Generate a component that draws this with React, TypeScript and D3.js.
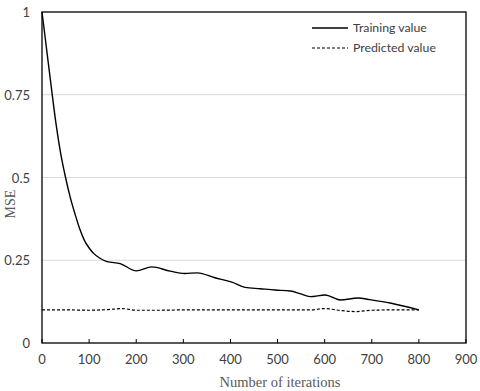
import * as d3 from "d3";
import { useEffect, useRef } from "react";

const xTicks = [0, 100, 200, 300, 400, 500, 600, 700, 800, 900];
const yTicks = [0, 0.25, 0.5, 0.75, 1];
const yTickLabels = ["0", "0.25", "0.5", "0.75", "1"];

const trainIter = [0, 10, 20, 30, 40, 50, 60, 70, 80, 90, 100, 110, 123, 138, 166, 200, 233, 272, 303, 330, 367, 403, 431, 463, 495, 527, 548, 569, 601, 633, 671, 696, 739, 800];
const trainMse = [1, 0.885, 0.77, 0.66, 0.57, 0.5, 0.44, 0.39, 0.345, 0.31, 0.287, 0.27, 0.256, 0.246, 0.24, 0.218, 0.23, 0.217, 0.21, 0.212, 0.197, 0.184, 0.168, 0.164, 0.16, 0.157, 0.149, 0.14, 0.145, 0.13, 0.136, 0.131, 0.121, 0.1];

const predIter = [0, 50, 100, 140, 170, 200, 250, 300, 400, 500, 570, 600, 630, 665, 700, 750, 800];
const predMse = [0.1, 0.1, 0.099, 0.101, 0.104, 0.099, 0.099, 0.1, 0.1, 0.1, 0.1, 0.104, 0.099, 0.095, 0.099, 0.1, 0.1];

const W = 480;
const H = 391;
const margin = { top: 12, right: 14, bottom: 48, left: 42 };

export default function App() {
  const ref = useRef<SVGSVGElement>(null);

  useEffect(() => {
    const svg = d3.select(ref.current);
    svg.selectAll("*").remove();

    const x = d3.scaleLinear().domain([0, 900]).range([margin.left, W - margin.right]);
    const y = d3.scaleLinear().domain([0, 1]).range([H - margin.bottom, margin.top]);

    // gridlines
    svg
      .append("g")
      .selectAll("line")
      .data([0.25, 0.5, 0.75])
      .join("line")
      .attr("x1", x(0))
      .attr("x2", x(900))
      .attr("y1", (d) => y(d))
      .attr("y2", (d) => y(d))
      .attr("stroke", "#d9d9d9")
      .attr("stroke-width", 1);

    // frame
    svg
      .append("rect")
      .attr("x", x(0))
      .attr("y", y(1))
      .attr("width", x(900) - x(0))
      .attr("height", y(0) - y(1))
      .attr("fill", "none")
      .attr("stroke", "#000")
      .attr("stroke-width", 1.3);

    // x axis ticks (inside)
    const xAxis = svg.append("g").attr("transform", `translate(0,${y(0)})`);
    xAxis
      .selectAll("line")
      .data(xTicks)
      .join("line")
      .attr("x1", (d) => x(d))
      .attr("x2", (d) => x(d))
      .attr("y1", 0)
      .attr("y2", -4)
      .attr("stroke", "#000");
    xAxis
      .selectAll("text")
      .data(xTicks)
      .join("text")
      .attr("x", (d) => x(d))
      .attr("y", 21)
      .attr("text-anchor", "middle")
      .attr("font-family", "Lato, sans-serif")
      .attr("font-size", 13)
      .attr("fill", "#404040")
      .text((d) => String(d));

    svg
      .append("g")
      .selectAll("text")
      .data(yTicks)
      .join("text")
      .attr("x", 30)
      .attr("y", (d) => y(d) + 5)
      .attr("text-anchor", "end")
      .attr("font-family", "Lato, sans-serif")
      .attr("font-size", 13)
      .attr("fill", "#404040")
      .text((d, i) => yTickLabels[i]);

    // axis titles
    svg
      .append("text")
      .attr("x", 280)
      .attr("y", 387)
      .attr("text-anchor", "middle")
      .attr("font-family", "'Liberation Serif', 'Times New Roman', serif")
      .attr("font-size", 14.5)
      .attr("fill", "#595959")
      .text("Number of iterations");
    svg
      .append("text")
      .attr("transform", `translate(15,204) rotate(-90)`)
      .attr("text-anchor", "middle")
      .attr("font-family", "'Liberation Serif', 'Times New Roman', serif")
      .attr("font-size", 14)
      .attr("fill", "#595959")
      .text("MSE");

    const line = d3
      .line<number>()
      .curve(d3.curveMonotoneX);

    svg
      .append("path")
      .attr(
        "d",
        line.x((d, i) => x(trainIter[i])).y((d) => y(d))(trainMse)
      )
      .attr("fill", "none")
      .attr("stroke", "#000")
      .attr("stroke-width", 1.4);

    svg
      .append("path")
      .attr(
        "d",
        line.x((d, i) => x(predIter[i])).y((d) => y(d))(predMse)
      )
      .attr("fill", "none")
      .attr("stroke", "#000")
      .attr("stroke-width", 1.2)
      .attr("stroke-dasharray", "3,2");

    // legend
    const legend = svg.append("g");
    const items = [
      { label: "Training value", dash: null },
      { label: "Predicted value", dash: "3,2" },
    ];
    items.forEach((it, i) => {
      const ly = 28 + i * 20;
      legend
        .append("line")
        .attr("x1", 312)
        .attr("x2", 348)
        .attr("y1", ly)
        .attr("y2", ly)
        .attr("stroke", "#000")
        .attr("stroke-width", it.dash ? 1.2 : 1.4)
        .attr("stroke-dasharray", it.dash);
      legend
        .append("text")
        .attr("x", 353)
        .attr("y", ly + 4)
        .attr("font-family", "Lato, sans-serif")
        .attr("font-size", 12.3)
        .attr("fill", "#404040")
        .text(it.label);
    });
  }, []);

  return (
    <svg
      ref={ref}
      width={W}
      height={H}
      style={{ position: "absolute", left: 0, top: 0, background: "#fff" }}
    ></svg>
  );
}
